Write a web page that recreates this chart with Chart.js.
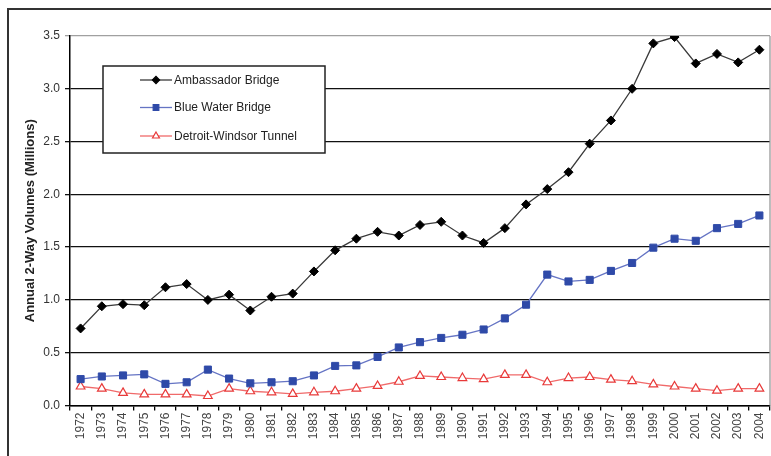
<!DOCTYPE html>
<html>
<head>
<meta charset="utf-8">
<script src="https://cdn.jsdelivr.net/npm/chart.js@4/dist/chart.umd.min.js"></script>
<style>
    html, body { margin: 0; padding: 0; background: #fff; }
    #wrap { width: 771px; height: 456px; }
</style>
</head>
<body>
<div id="wrap"><canvas id="volume_chart" width="771" height="456"></canvas></div>
<script>
// 年（X軸ラベル）
const years = ['1972','1973','1974','1975','1976','1977','1978','1979','1980','1981','1982',
    '1983','1984','1985','1986','1987','1988','1989','1990','1991','1992','1993',
    '1994','1995','1996','1997','1998','1999','2000','2001','2002','2003','2004'];

// アンバサダー橋
const ambassador = [0.73, 0.94, 0.96, 0.95, 1.12, 1.15, 1.00, 1.05, 0.90, 1.03, 1.06,
    1.27, 1.47, 1.58, 1.645, 1.61, 1.71, 1.74, 1.61, 1.54, 1.68, 1.905,
    2.05, 2.21, 2.48, 2.70, 3.00, 3.43, 3.49, 3.24, 3.33, 3.25, 3.37];

// ブルーウォーター橋
const blueWater = [0.25, 0.275, 0.285, 0.295, 0.205, 0.22, 0.34, 0.255, 0.21, 0.22, 0.23,
    0.285, 0.375, 0.38, 0.46, 0.55, 0.60, 0.64, 0.67, 0.72, 0.825, 0.955,
    1.24, 1.175, 1.19, 1.275, 1.35, 1.495, 1.58, 1.56, 1.68, 1.72, 1.80];

// デトロイト・ウィンザートンネル
const tunnel = [0.18, 0.16, 0.12, 0.105, 0.105, 0.105, 0.09, 0.16, 0.135, 0.125, 0.11,
    0.125, 0.135, 0.16, 0.185, 0.225, 0.28, 0.27, 0.26, 0.25, 0.29, 0.29,
    0.22, 0.26, 0.27, 0.245, 0.23, 0.20, 0.18, 0.16, 0.14, 0.16, 0.16];

// Y軸の目盛り
const yTicks = [0, 0.5, 1.0, 1.5, 2.0, 2.5, 3.0, 3.5];

const fontFamily = '"Liberation Sans", Arial, sans-serif';

// 外枠と右側の枠線を描く
const framePlugin = {
    id: 'frame',
    beforeDraw(chart) {
        const ctx = chart.ctx;
        ctx.save();
        ctx.fillStyle = '#fff';
        ctx.fillRect(0, 0, chart.width, chart.height);
        ctx.strokeStyle = '#333';
        ctx.lineWidth = 2;
        ctx.beginPath();
        ctx.moveTo(8, chart.height);
        ctx.lineTo(8, 9);
        ctx.lineTo(chart.width, 9);
        ctx.stroke();
        ctx.restore();
    },
    afterDatasetsDraw(chart) {
        const a = chart.chartArea;
        const ctx = chart.ctx;
        ctx.save();
        ctx.strokeStyle = '#999';
        ctx.lineWidth = 1.3;
        ctx.beginPath();
        ctx.moveTo(a.right, a.top);
        ctx.lineTo(a.right, a.bottom);
        ctx.stroke();
        ctx.restore();
    }
};

// グラフ内の凡例（枠付き）を描く
const legendBoxPlugin = {
    id: 'legendBox',
    afterDraw(chart) {
        const ctx = chart.ctx;
        const box = { x: 103, y: 66, w: 222, h: 87 };
        const rows = [80, 107.5, 136];
        ctx.save();
        ctx.fillStyle = '#fff';
        ctx.fillRect(box.x, box.y, box.w, box.h);
        ctx.strokeStyle = '#222';
        ctx.lineWidth = 1.5;
        ctx.strokeRect(box.x, box.y, box.w, box.h);
        chart.data.datasets.forEach(function(ds, i) {
            const y = rows[i];
            ctx.strokeStyle = ds.borderColor;
            ctx.lineWidth = 1.3;
            ctx.beginPath();
            ctx.moveTo(140, y);
            ctx.lineTo(172, y);
            ctx.stroke();
            ctx.fillStyle = ds.pointBackgroundColor;
            ctx.strokeStyle = ds.pointBorderColor;
            ctx.lineWidth = 1.2;
            Chart.helpers.drawPoint(ctx, {
                pointStyle: ds.pointStyle,
                radius: ds.pointRadius * 0.8,
                rotation: 0,
                borderWidth: 1.2
            }, 156, y);
            ctx.fillStyle = '#222';
            ctx.font = '12px ' + fontFamily;
            ctx.textBaseline = 'middle';
            ctx.textAlign = 'left';
            ctx.fillText(ds.label, 174, y + 0.5);
        });
        ctx.restore();
    }
};

function createChart() {
    const ctx = document.getElementById('volume_chart').getContext('2d');
    new Chart(ctx, {
        type: 'line',
        data: {
            labels: years,
            datasets: [
                {
                    label: 'Ambassador Bridge',
                    data: ambassador,
                    borderColor: '#3a3a3a',
                    borderWidth: 1.3,
                    pointStyle: 'rectRot',
                    pointRadius: 4.5,
                    pointBackgroundColor: '#000',
                    pointBorderColor: '#000',
                    pointBorderWidth: 1
                },
                {
                    label: 'Blue Water Bridge',
                    data: blueWater,
                    borderColor: '#6574c4',
                    borderWidth: 1.3,
                    pointStyle: 'rect',
                    pointRadius: 5,
                    pointBackgroundColor: '#2f4aa8',
                    pointBorderColor: '#2f4aa8',
                    pointBorderWidth: 1
                },
                {
                    label: 'Detroit-Windsor Tunnel',
                    data: tunnel,
                    borderColor: '#f06a6a',
                    borderWidth: 1.3,
                    pointStyle: 'triangle',
                    pointRadius: 5,
                    pointBackgroundColor: '#fff',
                    pointBorderColor: '#e83a3a',
                    pointBorderWidth: 1.2
                }
            ]
        },
        options: {
            responsive: false,
            animation: false,
            layout: {
                // 点の大きさによる自動余白は使わない
                autoPadding: false,
                padding: { left: 20, top: 36, right: 1, bottom: 0 }
            },
            plugins: {
                legend: { display: false },
                tooltip: { enabled: false }
            },
            scales: {
                x: {
                    offset: true,
                    grid: {
                        offset: true,
                        drawOnChartArea: false,
                        drawTicks: true,
                        tickLength: 5,
                        color: '#000',
                        lineWidth: 1.3
                    },
                    border: { color: '#000', width: 1.5 },
                    ticks: {
                        minRotation: 90,
                        maxRotation: 90,
                        autoSkip: false,
                        padding: 2,
                        color: '#444',
                        font: { family: fontFamily, size: 12 }
                    },
                    afterFit: function(scale) {
                        // ラベル分の右余白を消してプロット領域を右端まで広げる
                        scale.height = 456 - 405.5;
                        scale.paddingLeft = 0;
                        scale.paddingRight = 0;
                    }
                },
                y: {
                    min: 0,
                    max: 3.5,
                    afterBuildTicks: function(scale) {
                        scale.ticks = yTicks.map(function(v) { return { value: v }; });
                    },
                    grid: {
                        color: function(c) {
                            return c.tick && c.tick.value === 3.5 ? '#a0a0a0' : '#111';
                        },
                        lineWidth: 1.3,
                        tickLength: 5
                    },
                    border: { color: '#000', width: 1.5 },
                    ticks: {
                        padding: 5,
                        color: '#333',
                        font: { family: fontFamily, size: 12 },
                        callback: function(v) { return Number(v).toFixed(1); }
                    },
                    title: {
                        display: true,
                        text: 'Annual 2-Way Volumes (Millions)',
                        color: '#222',
                        padding: { top: 3, bottom: 0 },
                        font: { family: fontFamily, size: 13, weight: 'bold' }
                    },
                    afterFit: function(scale) {
                        scale.width = 50;
                    }
                }
            }
        },
        plugins: [framePlugin, legendBoxPlugin]
    });
}

createChart();
</script>
</body>
</html>
